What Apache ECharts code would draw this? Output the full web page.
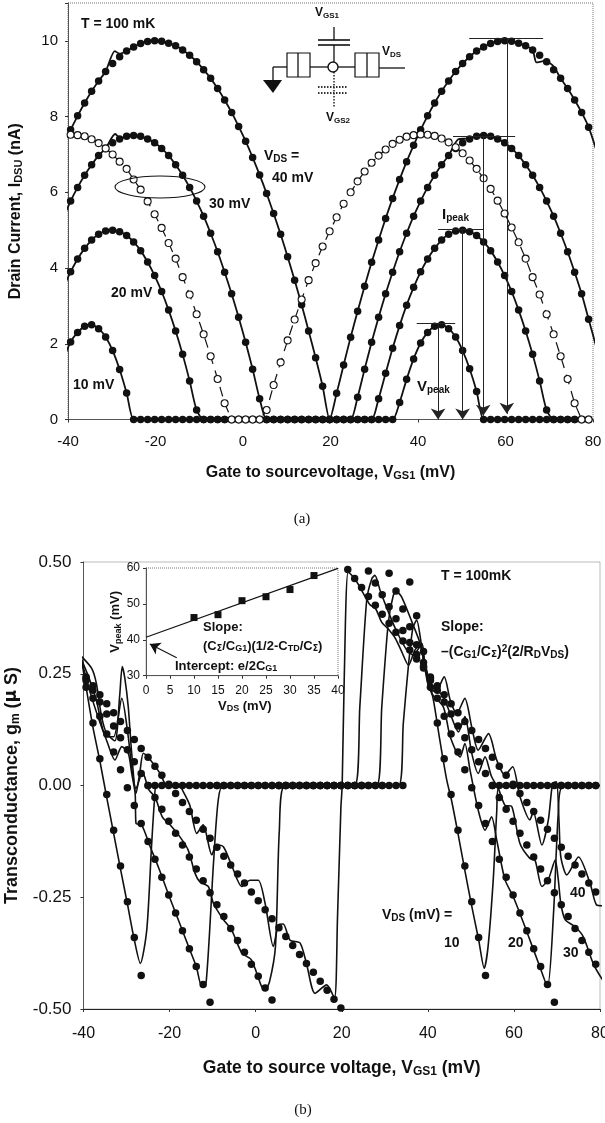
<!DOCTYPE html>
<html><head><meta charset="utf-8">
<style>html,body{margin:0;padding:0;background:#fff}#c{width:605px;height:1123px}</style>
<script src="https://cdn.jsdelivr.net/npm/echarts@6/dist/echarts.min.js"></script></head>
<body><div id="c"></div>
<script>
var gateVoltage=[-39.4,-37.8,-36.2,-34.6,-33,-31.4,-29.8,-28.2,-26.6,-25,-23.4,-21.8,-20.2,-18.6,-17,-15.4,-13.8,-12.2,-10.6,-9,-7.4,-5.8,-4.2,-2.6,-1,0.6,2.2,3.8,5.4,7,8.6,10.2,11.8,13.4,15,16.6,18.2,19.8,21.4,23,24.6,26.2,27.8,29.4,31,32.6,34.2,35.8,37.4,39,40.6,42.2,43.8,45.4,47,48.6,50.2,51.8,53.4,55,56.6,58.2,59.8,61.4,63,64.6,66.2,67.8,69.4,71,72.6,74.2,75.8,77.4,79];

// panel (a): drain current, nA
var id10=[2.05,2.3,2.46,2.5,2.4,2.18,1.82,1.32,.7,0,0,0,0,0,0,0,0,0,0,0,0,0,0,0,0,0,0,0,0,0,0,0,0,0,0,0,0,0,0,0,0,0,0,0,0,0,0,.45,1.06,1.6,2.02,2.3,2.46,2.5,2.4,2.18,1.82,1.34,.74,0,0,0,0,0,0,0,0,0,0,0,0,0,0,0,0];
var id20=[3.9,4.24,4.52,4.74,4.89,4.98,5,4.96,4.86,4.69,4.46,4.16,3.8,3.38,2.89,2.34,1.72,1.02,.25,0,0,0,0,0,0,0,0,0,0,0,0,0,0,0,0,0,0,0,0,0,0,0,0,0,.55,1.22,1.88,2.48,3.02,3.49,3.9,4.24,4.52,4.74,4.89,4.98,5,4.96,4.86,4.69,4.46,4.16,3.8,3.38,2.89,2.34,1.72,1.02,.25,0,0,0,0,0,0];
var id30=[5.77,6.13,6.45,6.73,6.97,7.16,7.31,7.41,7.48,7.5,7.48,7.41,7.31,7.16,6.97,6.73,6.45,6.13,5.77,5.37,4.92,4.43,3.89,3.32,2.7,2.04,1.33,.55,0,0,0,0,0,0,0,0,0,0,0,0,0,.59,1.33,2.04,2.7,3.32,3.89,4.43,4.92,5.37,5.77,6.13,6.45,6.73,6.97,7.16,7.31,7.41,7.48,7.5,7.48,7.41,7.31,7.16,6.97,6.73,6.45,6.13,5.77,5.37,4.92,4.43,3.89,3.32,2.65];
var id40=[7.65,8.02,8.36,8.67,8.94,9.19,9.4,9.58,9.73,9.84,9.93,9.98,10,9.99,9.94,9.87,9.76,9.62,9.45,9.24,9.01,8.74,8.44,8.11,7.74,7.35,6.92,6.46,5.97,5.44,4.89,4.3,3.68,3.03,2.34,1.63,.88,0,.69,1.44,2.17,2.86,3.52,4.15,4.74,5.31,5.84,6.34,6.81,7.24,7.65,8.02,8.36,8.67,8.94,9.19,9.4,9.58,9.73,9.84,9.93,9.98,10,9.99,9.94,9.87,9.76,9.62,9.45,9.24,9.01,8.74,8.44,8.11,7.72];
var id30open=[7.52,7.51,7.48,7.4,7.3,7.16,7,6.81,6.62,6.34,6.07,5.76,5.42,5.06,4.66,4.25,3.76,3.3,2.78,2.25,1.67,1.07,.43,0,0,0,0,0,.25,.91,1.51,2.09,2.64,3.17,3.68,4.13,4.57,4.97,5.34,5.7,6,6.29,6.55,6.78,6.97,7.13,7.28,7.39,7.47,7.51,7.53,7.52,7.49,7.42,7.32,7.19,7.03,6.84,6.62,6.37,6.09,5.78,5.44,5.07,4.68,4.25,3.76,3.3,2.78,2.25,1.67,1.07,.43,0,0];
var ripple10=[[-41,1.6]];
var ripple20=[[-41,3.5]];
var ripple30=[[-41,5.35],[-29.2,7.54],[-28,7.42],[49.2,7.4],[51,7.42],[80.9,1.85]];
var ripple40=[[-41,7.3],[-29.3,9.73],[-28.2,9.66],[67.1,9.43],[69,9.47],[70.9,9.34],[80.8,7.1]];
var peakCaps=[[39.7,48.5,2.54],[44.6,54.9,5.02],[48,62.2,7.47],[51.7,68.6,10.06]];
var peakDrops=[[44.6,2.54,0],[50.2,5.02,0],[54.9,7.47,.1],[60.3,10.06,.15]];
var xTicksA=[-40,-20,0,20,40,60,80];
var yTicksA=[0,2,4,6,8,10];

// panel (b): transconductance, uS
var gm10=[.22,.14,.06,-.02,-.1,-.18,-.26,-.34,-.425,0,0,0,0,0,0,0,0,0,0,0,0,0,0,0,0,0,0,0,0,0,0,0,0,0,0,0,0,0,0,0,0,0,0,0,0,0,0,.455,.38,.3,.22,.14,.06,-.02,-.1,-.18,-.26,-.34,-.425,0,0,0,0,0,0,0,0,0,0,0,0,0,0,0,0];
var gm20=[.235,.195,.155,.115,.075,.035,-.005,-.045,-.085,-.125,-.165,-.205,-.245,-.285,-.325,-.365,-.405,-.445,-.485,0,0,0,0,0,0,0,0,0,0,0,0,0,0,0,0,0,0,0,0,0,0,0,0,0,.475,.435,.395,.355,.315,.275,.235,.195,.155,.115,.075,.035,-.005,-.045,-.085,-.125,-.165,-.205,-.245,-.285,-.325,-.365,-.405,-.445,-.485,0,0,0,0,0,0];
var gm30=[.24,.213,.187,.16,.133,.107,.08,.053,.027,0,-.027,-.053,-.08,-.107,-.133,-.16,-.187,-.213,-.24,-.267,-.293,-.32,-.347,-.373,-.4,-.427,-.453,-.48,0,0,0,0,0,0,0,0,0,0,0,0,0,.48,.453,.427,.4,.373,.347,.32,.293,.267,.24,.213,.187,.16,.133,.107,.08,.053,.027,0,-.027,-.053,-.08,-.107,-.133,-.16,-.187,-.213,-.24,-.267,-.293,-.32,-.347,-.373,-.4];
var gm40=[.243,.223,.203,.183,.163,.143,.123,.103,.083,.063,.043,.023,.003,-.018,-.038,-.058,-.078,-.098,-.118,-.138,-.158,-.178,-.198,-.218,-.238,-.258,-.278,-.298,-.318,-.338,-.358,-.378,-.398,-.418,-.438,-.458,-.478,-.498,.483,.463,.443,.423,.403,.383,.363,.343,.323,.303,.283,.263,.243,.223,.203,.183,.163,.143,.123,.103,.083,.063,.043,.023,.003,-.018,-.038,-.058,-.078,-.098,-.118,-.138,-.158,-.178,-.198,-.218,-.238];
var curve10=[[-40.6,.29],[-39.4,.22],[-37.8,.13],[-36.2,.055],[-34.6,-.027],[-33,-.107],[-31.4,-.187],[-29.8,-.265],[-28.2,-.345],[-26.8,-.398],[-25.3,-.323],[-24.2,-.137],[-23.5,-.032],[-23,0],[33.2,0],[34.3,.139],[35.5,.269],[36.5,.351],[37.4,.37],[38.6,.31],[39.9,.25],[41.3,.191],[42.8,.101],[44.4,.012],[45.5,-.033],[47,-.107],[48.6,-.19],[50.2,-.27],[51.8,-.345],[53.1,-.409],[54,-.36],[55.2,-.21],[56,-.06],[56.5,-.003],[80,0]];
var curve20=[[-40.6,.285],[-38.5,.21],[-36.5,.15],[-34.6,.1],[-32.7,.057],[-31.1,.087],[-29.6,.072],[-28.8,.027],[-28,-.018],[-27.8,-.085],[-26.5,-.088],[-24.5,-.137],[-22.5,-.185],[-20.2,-.245],[-18.6,-.285],[-17,-.325],[-15.4,-.365],[-13.8,-.405],[-12.5,-.45],[-11.5,-.44],[-9.8,-.174],[-8.7,-.033],[-7.5,0],[28.1,0],[29.3,.176],[30.8,.363],[32,.426],[32.8,.433],[33.9,.422],[36.3,.366],[38.2,.318],[39.3,.266],[40.9,.206],[43.6,.176],[45.2,.109],[47.5,.064],[48.6,.094],[49.8,.035],[51.7,-.055],[53.3,-.1],[54.8,-.07],[56,-.122],[57.9,-.21],[59.9,-.25],[63,-.327],[66,-.405],[67.8,-.45],[69.2,-.286],[70.3,-.063],[71.3,-.003],[80,0]];
var curve30=[[-40.6,.285],[-38.5,.235],[-37,.19],[-35.5,.125],[-34.6,.109],[-33,.109],[-31.1,.195],[-29.6,.109],[-28.8,.04],[-27.8,-.007],[-26.3,.03],[-24.8,-.01],[-23.4,-.025],[-21.7,-.07],[-19.9,-.088],[-17.6,-.115],[-15.7,-.144],[-14.1,-.196],[-13,-.215],[-11,-.226],[-9.8,-.264],[-7.5,-.3],[-5.6,-.323],[-3.2,-.375],[-1,-.39],[1.4,-.45],[2.2,-.456],[3.2,-.44],[4.6,-.36],[5.5,-.1],[6.8,0],[23,0],[24.2,.176],[25.8,.415],[27,.463],[27.7,.47],[28.9,.437],[30.8,.389],[32.8,.344],[35.1,.303],[36.6,.292],[38.2,.31],[39.3,.262],[40.5,.213],[42.4,.21],[43.6,.198],[45.2,.161],[47.1,.12],[48.6,.154],[50.2,.072],[51.7,.027],[53.3,.064],[54.8,.02],[56.4,-.007],[57.9,-.044],[59.5,-.047],[61.4,-.13],[63.7,-.163],[64.9,-.167],[66.5,-.226],[68,-.21],[69.6,-.167],[70.3,-.21],[70.9,-.264],[71.9,-.3],[74.2,-.316],[76.1,-.338],[78.5,-.4],[80.6,-.435]];
var curve40=[[-40.6,.29],[-38.1,.262],[-37,.228],[-35.8,.154],[-34.6,.116],[-32.7,.1],[-31.6,.2],[-31,.266],[-30.4,.24],[-29.6,.176],[-28.8,.072],[-27.8,-.018],[-26.9,.03],[-26.1,.072],[-25,.064],[-22.2,.027],[-20.7,0],[-17.6,-.003],[-16.8,-.014],[-15.3,-.044],[-13.7,-.107],[-12.2,-.088],[-10.2,-.155],[-9.1,-.133],[-7.5,-.137],[-5.6,-.178],[-3.2,-.226],[-1.3,-.212],[.6,-.212],[2.2,-.264],[4.1,-.36],[5.3,-.312],[6.4,-.31],[8,-.346],[10.3,-.352],[11.8,-.398],[13.8,-.465],[16.5,-.446],[18.3,-.476],[19,-.3],[19.8,-.05],[20.1,0],[20.6,.25],[21.5,.478],[23,.463],[24.6,.437],[26.5,.405],[27.9,.395],[29.3,.365],[30.8,.35],[32.4,.33],[33.9,.3],[35.5,.269],[37,.303],[38.6,.318],[39.3,.273],[40.5,.228],[42,.213],[43.8,.243],[45.2,.191],[46.7,.161],[48.6,.195],[50.2,.131],[51.7,.079],[54.1,.116],[56,.057],[57.9,.023],[59.7,.042],[61.4,-.025],[63.7,-.077],[64.5,-.059],[66.5,-.133],[68,-.077],[69,.005],[69.9,.008],[70.5,-.085],[70.9,-.16],[72.3,-.2],[75,-.16],[77.7,-.219],[79.2,-.267],[80.8,-.269]];
var xTicksB=[-40,-20,0,20,40,60,80];
var yTicksB=[-0.5,-0.25,0,0.25,0.5];

// inset
var insetVds=[10,15,20,25,30,35];
var insetPeak=[46.2,47,50.9,52,54,57.9];
var insetFit=[[0,40.7],[40,59.9]];
var insetXTicks=[0,5,10,15,20,25,30,35,40];
var insetYTicks=[30,40,50,60];

var FONT='"Liberation Sans",Arial,sans-serif';
function zip(xs,ys){return xs.map(function(x,i){return [x,ys[i]];});}
function merged(xs,ys,extra){
  var keep=zip(xs,ys).filter(function(p){return !extra.some(function(e){return Math.abs(e[0]-p[0])<.85;});});
  return keep.concat(extra).sort(function(a,b){return a[0]-b[0];});
}
var richBase={
  b:{fontFamily:FONT,fontWeight:'bold',fontSize:14,fill:'#111',color:'#111'},
  s:{fontFamily:FONT,fontWeight:'bold',fontSize:9,fill:'#111',color:'#111',verticalAlign:'bottom',padding:[6,0,0,0]},
  u:{fontFamily:FONT,fontWeight:'bold',fontSize:9,fill:'#111',color:'#111',padding:[0,0,6,0]},
  g:{fontFamily:'"DejaVu Sans"',fontWeight:'bold',fontSize:8,fill:'#111',color:'#111',padding:[6,0,0,0]}
};
function label(x,y,t,size){
  var r=JSON.parse(JSON.stringify(richBase));
  size=size||14;r.b.fontSize=size;r.s.fontSize=Math.round(size*.68);r.u.fontSize=Math.round(size*.68);r.g.fontSize=Math.round(size*.62);
  return {type:'text',x:x,y:y,z:50,silent:true,style:{text:t,rich:r,verticalAlign:'middle',fill:'#111',font:'bold '+size+'px '+FONT}};
}
function seg(x1,y1,x2,y2,w,dash){return {type:'line',z:40,silent:true,shape:{x1:x1,y1:y1,x2:x2,y2:y2},style:{stroke:dash?'#333':'#111',lineWidth:w||1.3,lineDash:dash?[1.5,1.5]:null}};}
function rect(x,y,w,h){return {type:'rect',z:40,silent:true,shape:{x:x,y:y,width:w,height:h},style:{fill:'#fff',stroke:'#111',lineWidth:1.2}};}

var graphics=[
  label(81,24,'{b|T = 100 mK}',14),
  label(264,156,'{b|V}{s|DS}{b| =}',14),
  label(272,178,'{b|40 mV}',14),
  label(209,204,'{b|30 mV}',14),
  label(111,293,'{b|20 mV}',14),
  label(73,385,'{b|10 mV}',14),
  label(442,215,'{b|I}{s|peak}',15),
  label(417,387,'{b|V}{s|peak}',15),
  {type:'ellipse',z:40,silent:true,shape:{cx:160,cy:187,rx:45,ry:11},style:{fill:null,stroke:'#111',lineWidth:1.1}},
  // circuit symbol
  seg(273,67,287,67),seg(273,67,273,80),
  {type:'polygon',z:40,silent:true,shape:{points:[[263,80],[282,80],[273,93]]},style:{fill:'#111'}},
  rect(287,53,23,24),seg(298,53,298,77),seg(310,67,328,67),
  seg(338,67,355,67),rect(355,53,24,24),seg(367,53,367,77),seg(379,68,405,68),
  seg(334,27,334,40),seg(334,45,334,62),seg(318,40,350,40,1.6),seg(318,45,350,45,1.6),
  seg(334,72,334,108,1.6,true),seg(318,87,348,87,1.8,true),seg(318,93,348,93,1.8,true),
  {type:'circle',z:41,silent:true,shape:{cx:333,cy:67,r:5},style:{fill:'#fff',stroke:'#111',lineWidth:1.4}},
  label(315,13,'{b|V}{s|GS1}',12),label(382,52,'{b|V}{s|DS}',12),label(326,118,'{b|V}{s|GS2}',12),
  {type:'text',x:302,y:519,z:50,silent:true,style:{text:'(a)',font:'15px "Liberation Serif",serif',fill:'#111',align:'center',verticalAlign:'middle'}},
  {type:'text',x:303,y:1110,z:50,silent:true,style:{text:'(b)',font:'15px "Liberation Serif",serif',fill:'#111',align:'center',verticalAlign:'middle'}},
  // panel b labels
  label(441,576,'{b|T = 100mK}',14),
  label(441,627,'{b|Slope:}',14),
  label(441,652,'{b|\u2013(C}{s|G1}{b|/C}{g|\u03a3}{b|)}{u|2}{b|(2/R}{s|D}{b|V}{s|DS}{b|)}',14),
  label(382,915,'{b|V}{s|DS}{b| (mV) =}',14),
  label(444,943,'{b|10}',14),label(508,943,'{b|20}',14),label(563,953,'{b|30}',14),label(570,893,'{b|40}',14),
  // inset labels
  label(203,627,'{b|Slope:}',13),
  label(203,646,'{b|(C}{g|\u03a3}{b|/C}{s|G1}{b|)(1/2-C}{s|TD}{b|/C}{g|\u03a3}{b|)}',13),
  label(175,666,'{b|Intercept: e/2C}{s|G1}',13),
  label(218,706,'{b|V}{s|DS}{b| (mV)}',13)
];

function grid(l,t,w,h){return {left:l,top:t,width:w,height:h,show:true,borderColor:'#777',borderWidth:1,borderType:'dotted',containLabel:false,outerBoundsMode:'none'};}
function line(ax,data,w,extra){return Object.assign({type:'line',xAxisIndex:ax,yAxisIndex:ax,data:data,showSymbol:false,symbol:'none',smooth:.25,clip:false,z:3,silent:true,lineStyle:{color:'#111',width:w}},extra||{});}
function dots(ax,data,size,z){return {type:'scatter',xAxisIndex:ax,yAxisIndex:ax,data:data,symbol:'circle',symbolSize:size,clip:false,z:z||5,silent:true,itemStyle:{color:'#111',opacity:1}};}
var series=[];
// panel a
[[id10,ripple10],[id20,ripple20],[id30,ripple30],[id40,ripple40]].forEach(function(p){
  series.push(line(0,merged(gateVoltage,p[0],p[1]),1.8));
  series.push(dots(0,zip(gateVoltage,p[0]),7.5));
});
series.push(line(0,zip(gateVoltage,id30open),1.2,{lineStyle:{color:'#111',width:1.2,type:[10,7]},smooth:false,z:6}));
series.push({type:'scatter',xAxisIndex:0,yAxisIndex:0,data:zip(gateVoltage,id30open),symbol:'circle',symbolSize:7,z:7,silent:true,clip:false,itemStyle:{color:'#fff',borderColor:'#111',borderWidth:1.1,opacity:1}});
var caps=peakCaps.map(function(c){return [{coord:[c[0],c[2]],symbol:'none'},{coord:[c[1],c[2]],symbol:'none'}];});
var drops=peakDrops.map(function(d){return [{coord:[d[0],d[1]],symbol:'none'},{coord:[d[0],d[2]],symbol:'arrow',symbolSize:11}];});
series.push({type:'line',xAxisIndex:0,yAxisIndex:0,data:[],z:8,markLine:{silent:true,animation:false,z:8,label:{show:false},lineStyle:{color:'#222',width:1,type:'solid'},data:caps.concat(drops)}});
// panel b
[curve10,curve20,curve30,curve40].forEach(function(c){series.push(line(1,c,1.6));});
[gm10,gm20,gm30,gm40].forEach(function(g){series.push(dots(1,zip(gateVoltage,g),7.5));});
// inset
series.push(line(2,insetFit,1.2,{smooth:false}));
series.push({type:'scatter',xAxisIndex:2,yAxisIndex:2,data:zip(insetVds,insetPeak),symbol:'rect',symbolSize:7,z:5,silent:true,itemStyle:{color:'#111',opacity:1}});
series.push({type:'line',xAxisIndex:2,yAxisIndex:2,data:[],z:8,markLine:{silent:true,animation:false,label:{show:false},lineStyle:{color:'#111',width:1.1,type:'solid'},data:[[{coord:[6.4,35],symbol:'none'},{coord:[.8,38.8],symbol:'arrow',symbolSize:10}]]}});

function axisRich(n){return {b:{fontFamily:FONT,fontWeight:'bold',fontSize:n,color:'#111'},s:{fontFamily:FONT,fontWeight:'bold',fontSize:Math.round(n*.68),color:'#111',padding:[Math.round(n*.4),0,0,0]},m:{fontFamily:'"DejaVu Sans"',fontWeight:'bold',fontSize:n-1,color:'#111'}};}
function xAxis(i,min,max,iv,ticks,size,name,gap,nsize,margin,color){return {gridIndex:i,type:'value',min:min,max:max,interval:iv,splitLine:{show:false},
  axisLine:{onZero:false,lineStyle:{color:color||'#555',width:1}},axisTick:{show:true,length:3,lineStyle:{color:'#333'}},
  axisLabel:{color:'#111',fontFamily:FONT,fontSize:size,margin:margin,customValues:ticks,hideOverlap:false},
  name:name,nameLocation:'middle',nameGap:gap,nameTextStyle:{color:'#111',fontFamily:FONT,fontWeight:'bold',fontSize:nsize,rich:axisRich(nsize)}};}
function yAxis(i,min,max,iv,ticks,size,name,gap,nsize,margin,fmt){return {gridIndex:i,type:'value',min:min,max:max,interval:iv,splitLine:{show:false},
  axisLine:{onZero:false,lineStyle:{color:'#555',width:1}},axisTick:{show:true,length:3,lineStyle:{color:'#333'}},
  axisLabel:{color:'#111',fontFamily:FONT,fontSize:size,margin:margin,customValues:ticks,formatter:fmt,hideOverlap:false},
  name:name,nameLocation:'middle',nameGap:gap,nameTextStyle:{color:'#111',fontFamily:FONT,fontWeight:'bold',fontSize:nsize,rich:axisRich(nsize)}};}

var option={animation:false,backgroundColor:'#fff',
  grid:[grid(68,3,525,416.5),grid(83.5,562,516.5,447),grid(146,568,192,107.7)],
  xAxis:[
    xAxis(0,-40,80,20,xTicksA,15,'{b|Gate to sourcevoltage, V}{s|GS1}{b| (mV)}',45,16,15),
    xAxis(1,-40,80,20,xTicksB,16,'{b|Gate to source voltage, V}{s|GS1}{b| (mV)}',50,17.5,17,'#222'),
    xAxis(2,0,40,5,insetXTicks,12,'',0,12,9)
  ],
  yAxis:[
    yAxis(0,0,11,2,yTicksA,15,'{b|Drain Current, I}{s|DSU}{b| (nA)}',44,16,10),
    yAxis(1,-.5,.5,.25,yTicksB,17,'{b|Transconductance, g}{s|m}{b| (}{m|\u03bc}{b| S)}',62,18,12,function(v){return v.toFixed(2);}),
    yAxis(2,30,60,10,insetYTicks,12,'{b|V}{s|peak}{b| (mV)}',19,13,6)
  ],
  series:series,
  graphic:{elements:graphics}
};
var chart=echarts.init(document.getElementById('c'),null,{renderer:'canvas'});
chart.setOption(option);
</script></body></html>
